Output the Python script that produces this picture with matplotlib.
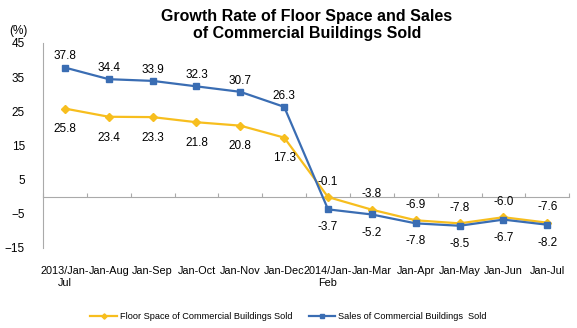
import matplotlib
matplotlib.use("Agg")
import matplotlib.pyplot as plt
import numpy as np

plt.rcParams["font.family"] = ["Liberation Sans", "DejaVu Sans"]

periods = ["2013/Jan-\nJul", "Jan-Aug", "Jan-Sep", "Jan-Oct", "Jan-Nov", "Jan-Dec",
           "2014/Jan-\nFeb", "Jan-Mar", "Jan-Apr", "Jan-May", "Jan-Jun", "Jan-Jul"]
floor_space = [25.8, 23.4, 23.3, 21.8, 20.8, 17.3, -0.1, -3.8, -6.9, -7.8, -6.0, -7.6]
sales = [37.8, 34.4, 33.9, 32.3, 30.7, 26.3, -3.7, -5.2, -7.8, -8.5, -6.7, -8.2]
yticks = [-15, -5, 5, 15, 25, 35, 45]

yellow = "#F7BE1E"
blue = "#3A6DB3"

fig = plt.figure(figsize=(5.77, 3.28), dpi=100)
ax = fig.add_axes([0.0745, 0.244, 0.912, 0.625])

x = np.arange(len(periods))
ax.plot(x, floor_space, color=yellow, lw=1.6, marker="D", ms=4.5,
        label="Floor Space of Commercial Buildings Sold")
ax.plot(x, sales, color=blue, lw=1.6, marker="s", ms=4.5,
        label="Sales of Commercial Buildings  Sold")

# value labels: floor space below until 2014, sales below from 2014 on
for i in x:
    f, s = floor_space[i], sales[i]
    if i < 6:
        ax.annotate(f"{f:.1f}", (i, f), xytext=(0, -15), textcoords="offset points",
                    ha="center", va="center", fontsize=8.5)
        ax.annotate(f"{s:.1f}", (i, s), xytext=(0, 8), textcoords="offset points",
                    ha="center", va="center", fontsize=8.5)
    else:
        ax.annotate(f"{f:.1f}", (i, f), xytext=(0, 11), textcoords="offset points",
                    ha="center", va="center", fontsize=8.5)
        ax.annotate(f"{s:.1f}", (i, s), xytext=(0, -13), textcoords="offset points",
                    ha="center", va="center", fontsize=8.5)

ax.set_xlim(-0.5, len(periods) - 0.5)
ax.set_ylim(-15, 45)
ax.set_yticks(yticks)
ax.tick_params(axis="y", length=0, pad=13, labelsize=8.5)
ax.set_xticks(x)
ax.set_xticklabels(periods, fontsize=7.8)
ax.tick_params(axis="x", length=0, pad=13)

for side in ["top", "right", "bottom"]:
    ax.spines[side].set_visible(False)
ax.spines["left"].set_color("#AAAAAA")

# category axis drawn through zero
zero_axis = ax.secondary_xaxis(15 / 60)
zero_axis.set_xticks(np.arange(len(periods) + 1) - 0.5)
zero_axis.tick_params(direction="in", length=3, color="#AAAAAA", labelbottom=False)
zero_axis.spines["bottom"].set_color("#AAAAAA")

fig.text(0.532, 0.924, "Growth Rate of Floor Space and Sales\nof Commercial Buildings Sold",
         ha="center", va="center", fontsize=11.5, fontweight="bold", linespacing=1.1)
fig.text(0.032, 0.905, "(%)", ha="center", va="center", fontsize=8.5)

fig.legend(loc="center", bbox_to_anchor=(0.5, 0.035), ncol=2, frameon=False,
           fontsize=6.6, handlelength=2.9, handletextpad=0.3, columnspacing=1.8,
           markerscale=0.6)

fig.savefig("out.png", dpi=100)
